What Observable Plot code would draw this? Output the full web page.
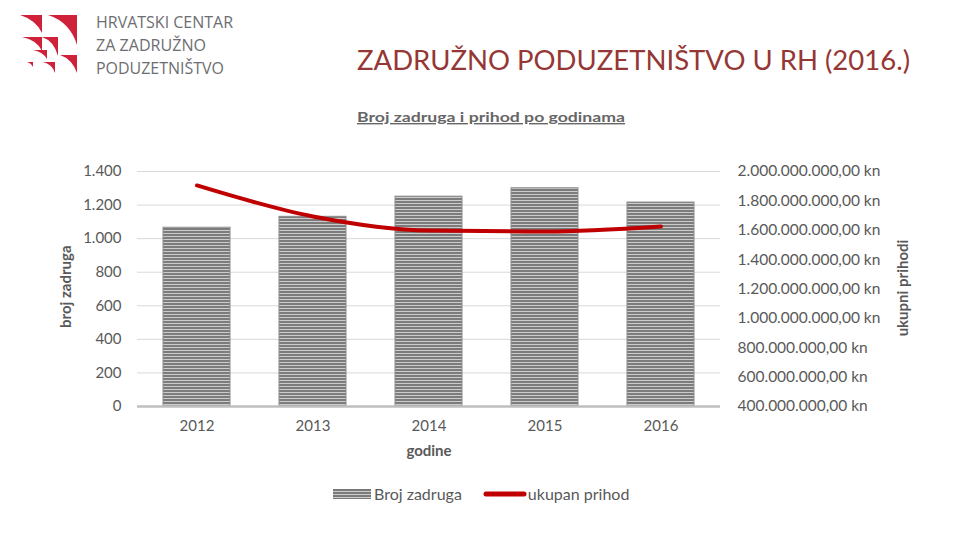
<!DOCTYPE html>
<html>
<head>
<meta charset="utf-8">
<script src="https://cdn.jsdelivr.net/npm/d3@7"></script>
<script src="https://cdn.jsdelivr.net/npm/@observablehq/plot@0.6"></script>
<style>
  html, body { margin: 0; padding: 0; background: #fff; }
  #page { position: relative; width: 960px; height: 540px; overflow: hidden; font-family: Lato, "Open Sans", sans-serif; }
  #header { position: absolute; left: 0; top: 0; }
  #chart { position: absolute; left: 0; top: 150px; }
  .ytitle { position: absolute; font-weight: bold; color: #595959; font-size: 15px; white-space: nowrap; transform-origin: center center; }
  #legend { position: absolute; top: 484px; left: 333px; display: flex; align-items: center; font-size: 16px; color: #595959; }
  #legend .item { display: flex; align-items: center; }
</style>
</head>
<body>
<div id="page">
  <svg id="header" width="960" height="140" xmlns="http://www.w3.org/2000/svg">
    <g fill="#d0213a">
      <path d="M20 15 L42 15 L42 33 Q36 20 20 15 Z"/>
      <path d="M48 15 L77 15 L77 45 Q70 22 48 15 Z"/>
      <path d="M22 37 L42 37 L42 51 Q37 40 22 37 Z"/>
      <path d="M42 37 L58 37 L58 56 Q54 41 42 37 Z"/>
      <path d="M33 50 L47 50 L47 59 Q43 52 33 50 Z"/>
      <path d="M60 55 L77 55 L77 73 Q72 59 60 55 Z"/>
      <path d="M27 62 L33 62 L33 67 Q31 63 27 62 Z"/>
      <path d="M43 62 L55 62 L55 73 Q52 64 43 62 Z"/>
    </g>
    <g fill="#6d6e71" font-family="'Open Sans', sans-serif" font-size="16">
      <text x="96" y="28" textLength="137" lengthAdjust="spacingAndGlyphs">HRVATSKI CENTAR</text>
      <text x="96" y="51" textLength="110" lengthAdjust="spacingAndGlyphs">ZA ZADRUŽNO</text>
      <text x="96" y="74" textLength="128" lengthAdjust="spacingAndGlyphs">PODUZETNIŠTVO</text>
    </g>
    <text x="357" y="70" fill="#953735" font-family="Lato, sans-serif" font-size="27" textLength="553" lengthAdjust="spacingAndGlyphs">ZADRUŽNO PODUZETNIŠTVO U RH (2016.)</text>
    <text x="357" y="122" fill="#666666" font-family="Lato, sans-serif" font-weight="bold" font-size="14" text-decoration="underline" textLength="268" lengthAdjust="spacingAndGlyphs">Broj zadruga i prihod po godinama</text>
  </svg>
  <div id="chart"></div>
  <div class="ytitle" style="left:25px; top:279px; width:80px; text-align:center; transform: rotate(-90deg);">broj zadruga</div>
  <div class="ytitle" style="left:852px; top:279px; width:100px; text-align:center; transform: rotate(-90deg);">ukupni prihodi</div>
  <div class="ytitle" style="left:379px; top:441px; width:100px; text-align:center;">godine</div>
  <div id="legend">
    <div class="item">
      <svg width="38" height="10" style="margin-right:3px"><rect width="38" height="10" fill="url(#stripesLegend)"/>
        <defs><pattern id="stripesLegend" width="4" height="3" patternUnits="userSpaceOnUse"><rect width="4" height="3" fill="#cccccc"/><rect width="4" height="2" fill="#7a7a7a"/></pattern></defs>
      </svg>
      <span>Broj zadruga</span>
    </div>
    <div class="item" style="margin-left:21px">
      <svg width="44" height="8" style="margin-right:1px"><line x1="3" y1="4" x2="41" y2="4" stroke="#c00000" stroke-width="5" stroke-linecap="round"/></svg>
      <span>ukupan prihod</span>
    </div>
  </div>
</div>
<script>
const years = ["2012", "2013", "2014", "2015", "2016"];
const brojZadruga = [1065, 1130, 1250, 1300, 1215];
const ukupanPrihod = [1905e6, 1694e6, 1598e6, 1592e6, 1626e6];
const leftTicks = [0, 200, 400, 600, 800, 1000, 1200, 1400];
const rightTicks = [400e6, 600e6, 800e6, 1000e6, 1200e6, 1400e6, 1600e6, 1800e6, 2000e6];

const data = years.map((y, i) => ({year: y, broj: brojZadruga[i], prihod: ukupanPrihod[i]}));

// secondary axis mapping: right domain [400M, 2000M] -> left domain [0, 1400]
const rMin = 400e6, rMax = 2000e6, lMax = 1400;
const toLeft = v => (v - rMin) / (rMax - rMin) * lMax;
const fromLeft = v => v / lMax * (rMax - rMin) + rMin;

const hr = d3.formatLocale({decimal: ",", thousands: ".", grouping: [3], currency: ["", " kn"]});
const fmtInt = hr.format(",d");
const fmtKn = v => hr.format(",.2f")(Math.round(v)) + " kn";

const plot = Plot.plot({
  width: 960,
  height: 320,
  marginTop: 21,
  marginBottom: 64,
  marginLeft: 137,
  marginRight: 240,
  style: {fontFamily: "Lato, 'Open Sans', sans-serif", fontSize: "15px", color: "#595959", background: "transparent"},
  x: {domain: years, paddingInner: 0.42, paddingOuter: 0.21, label: null},
  y: {domain: [0, lMax], label: null},
  marks: [
    Plot.gridY(leftTicks, {stroke: "#d9d9d9", strokeOpacity: 1, strokeWidth: 1}),
    Plot.barY(data, {x: "year", y: "broj", fill: "url(#stripes)", stroke: "#8c8c8c", strokeWidth: 1}),
    Plot.ruleY([0], {stroke: "#bfbfbf", strokeWidth: 2.5}),
    Plot.lineY(data, {x: "year", y: d => toLeft(d.prihod), stroke: "#c00000", strokeWidth: 4, strokeLinecap: "round", strokeLinejoin: "round", curve: "monotone-x"}),
    Plot.axisY(leftTicks, {anchor: "left", tickSize: 0, tickPadding: 16, tickFormat: fmtInt, fontSize: 15, label: null}),
    Plot.axisY(rightTicks.map(toLeft), {anchor: "right", tickSize: 0, tickPadding: 17, tickFormat: d => fmtKn(fromLeft(d)), fontSize: 15.5, label: null}),
    Plot.axisX({tickSize: 0, tickPadding: 14, fontSize: 15, label: null})
  ]
});

// stripe pattern for bars
const ns = "http://www.w3.org/2000/svg";
const defs = document.createElementNS(ns, "defs");
defs.innerHTML = '<pattern id="stripes" width="4" height="3" patternUnits="userSpaceOnUse"><rect width="4" height="3" fill="#cccccc"/><rect width="4" height="2" fill="#7c7c7c"/></pattern>';
plot.insertBefore(defs, plot.firstChild);

document.getElementById("chart").appendChild(plot);
</script>
</body>
</html>
